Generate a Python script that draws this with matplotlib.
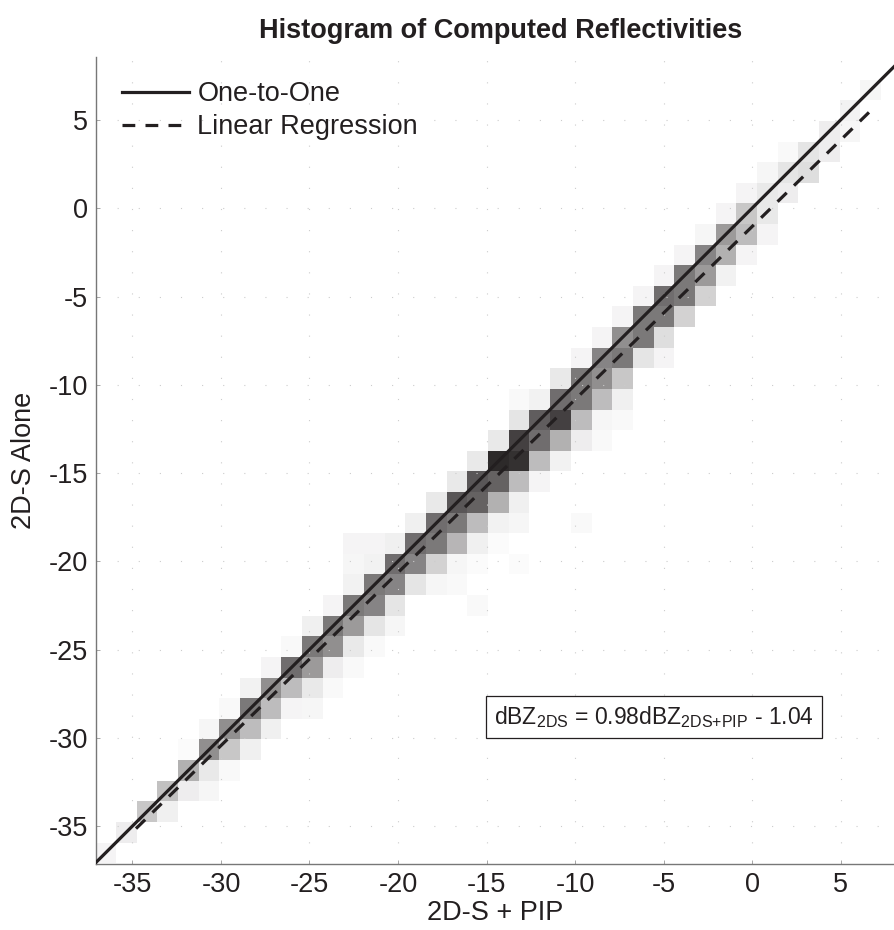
import numpy as np
import matplotlib
matplotlib.use("Agg")
import matplotlib.pyplot as plt
from matplotlib.colors import LinearSegmentedColormap

plt.rcParams['font.family'] = ['Liberation Sans', 'DejaVu Sans']
plt.rcParams['mathtext.fontset'] = 'custom'
plt.rcParams['mathtext.rm'] = 'Liberation Sans'
plt.rcParams['axes.unicode_minus'] = False

# histogram grid (dBZ)
bin_lo = -37.1
bin_w = 1.168
n_bins = 40

# normalised counts per y-row: first filled column, then values going right
row_start = [0, 1, 2, 3, 4, 4, 5, 6, 7, 8,
             9, 10, 11, 12, 12, 12, 15, 16, 17, 18,
             19, 20, 20, 22, 23, 24, 25, 26, 27, 28,
             29, 30, 31, 32, 33, 35, 36, 37]
row_vals = [
    [0.05],
    [0.08],
    [0.25, 0.07],
    [0.28, 0.08, 0.04],
    [0.35, 0.10, 0.03],
    [0.02, 0.50, 0.25, 0.07],
    [0.04, 0.50, 0.30, 0.07],
    [0.03, 0.60, 0.30, 0.05, 0.04],
    [0.06, 0.50, 0.30, 0.10, 0.03],
    [0.05, 0.65, 0.45, 0.08, 0.03],
    [0.03, 0.60, 0.50, 0.10, 0.03],
    [0.07, 0.60, 0.45, 0.12, 0.04],
    [0.05, 0.60, 0.55, 0.12, 0.00, 0.00, 0.00, 0.03],
    [0.06, 0.60, 0.55, 0.12, 0.04, 0.03],
    [0.04, 0.06, 0.65, 0.55, 0.20, 0.04, 0.02, 0.00, 0.02],
    [0.05, 0.05, 0.07, 0.65, 0.60, 0.33, 0.07, 0.02],
    [0.07, 0.65, 0.60, 0.30, 0.06, 0.04, 0.00, 0.00, 0.03],
    [0.10, 0.75, 0.70, 0.35, 0.07],
    [0.10, 0.75, 0.70, 0.30, 0.05],
    [0.10, 0.95, 0.92, 0.30, 0.06],
    [0.10, 0.85, 0.65, 0.35, 0.08, 0.03],
    [0.12, 0.72, 0.85, 0.30, 0.04, 0.03],
    [0.03, 0.06, 0.65, 0.60, 0.30, 0.07],
    [0.10, 0.60, 0.50, 0.25],
    [0.05, 0.55, 0.60, 0.12, 0.05],
    [0.05, 0.50, 0.60, 0.15],
    [0.05, 0.60, 0.60, 0.20],
    [0.05, 0.65, 0.60, 0.20],
    [0.05, 0.60, 0.45, 0.06],
    [0.05, 0.55, 0.35, 0.05],
    [0.04, 0.45, 0.30, 0.05],
    [0.05, 0.25, 0.10],
    [0.05, 0.10, 0.08],
    [0.04, 0.12, 0.15],
    [0.03, 0.12, 0.08],
    [0.08, 0.04],
    [0.06],
    [0.04],
]

# fit shown in the box
slope = 0.98
intercept = -1.04
fit_x = [-34.8, 6.8]

counts = np.zeros((n_bins, n_bins))
for j, (c0, vals) in enumerate(zip(row_start, row_vals)):
    for k, v in enumerate(vals):
        counts[j, c0 + k] = v
edges = bin_lo + bin_w * np.arange(n_bins + 1)
counts = np.ma.masked_equal(counts, 0)

cmap = LinearSegmentedColormap.from_list("wk", ["#ffffff", "#231f20"])
ink = "#231f20"
fs = 19.5

fig = plt.figure(figsize=(8.94, 9.30), dpi=100)
ax = fig.add_axes([96 / 894, 66 / 930, 798 / 894, 807 / 930])
ax.pcolormesh(edges, edges, counts, cmap=cmap, vmin=0, vmax=1, zorder=1)

xx = np.array([-40.0, 10.0])
ax.plot(xx, xx, color=ink, lw=2.3, label="One-to-One", zorder=3)
fx = np.array(fit_x)
ax.plot(fx, slope * fx + intercept, color=ink, lw=2.3,
        dashes=(4, 3.2), label="Linear Regression", zorder=3)

ax.set_xlim(-37.06, 8.02)
ax.set_ylim(-37.15, 8.57)
ticks = [-35, -30, -25, -20, -15, -10, -5, 0, 5]
ax.set_xticks(ticks)
ax.set_yticks(ticks)
ax.tick_params(labelsize=fs, direction="in", length=3, width=0.6,
               color="#999999", pad=6, labelcolor=ink)
ax.grid(True, color="#cccccc", lw=0.8, dashes=(1, 18), zorder=0)
for s in ["top", "right"]:
    ax.spines[s].set_visible(False)
for s in ["left", "bottom"]:
    ax.spines[s].set_color("#777777")
    ax.spines[s].set_linewidth(1.0)

ax.set_xlabel("2D-S + PIP", fontsize=fs, labelpad=1, color=ink)
ax.set_ylabel("2D-S Alone", fontsize=fs, labelpad=8, color=ink)
fig.text(501 / 894, 1 - 31 / 930, "Histogram of Computed Reflectivities",
         ha="center", va="center", fontsize=19.5, fontweight="bold", color=ink)

leg = ax.legend(loc="upper left", bbox_to_anchor=(0.0326, 0.97), frameon=False,
                fontsize=fs, handlelength=2.48, handletextpad=0.3,
                labelspacing=0.25, borderaxespad=0, borderpad=0)
for t in leg.get_texts():
    t.set_color(ink)

ax.text(-5.54, -28.8,
        r"dBZ$_{\mathregular{2DS}}$ = 0.98dBZ$_{\mathregular{2DS{+}PIP}}$ - 1.04",
        ha="center", va="center", fontsize=16.5, zorder=4, color=ink,
        bbox=dict(boxstyle="square,pad=0.35", fc="white", ec=ink, lw=0.9))

fig.savefig("out.png", dpi=100)
